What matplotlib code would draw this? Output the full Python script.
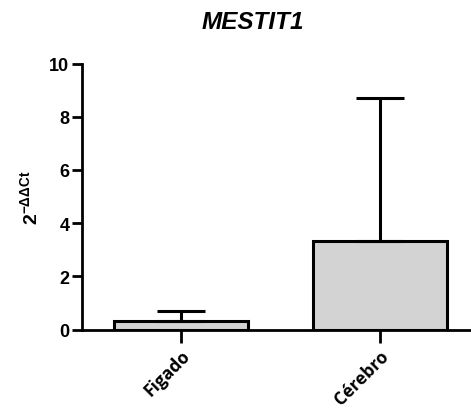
import matplotlib
matplotlib.use("Agg")
import matplotlib.pyplot as plt

plt.rcParams["mathtext.fontset"] = "custom"
plt.rcParams["mathtext.rm"] = "Liberation Sans:bold"
plt.rcParams["mathtext.bf"] = "Liberation Sans:bold"
plt.rcParams["mathtext.it"] = "Liberation Sans:bold"

categories = ["Figado", "Cérebro"]
means = [0.34, 3.32]
errors = [0.35, 5.38]
yticks = [0, 2, 4, 6, 8, 10]
title = "MESTIT1"

fig = plt.figure(figsize=(4.71, 4.14), dpi=100)
ax = fig.add_axes([82/471, 1-330.7/414, 1-82/471, (330.7-64.5)/414])

x = list(range(len(categories)))
ax.bar(x, means, width=0.67, color="#d3d3d3", edgecolor="black", linewidth=2.2, zorder=2)
ax.errorbar(x, means, yerr=[[0]*len(errors), errors], fmt="none", ecolor="black",
            elinewidth=2.2, capsize=17, capthick=2.2, zorder=3)

ax.set_xlim(-0.497, 1.457)
ax.set_ylim(0, 10)
ax.set_yticks(yticks)
ax.set_yticklabels([str(v) for v in yticks], fontfamily="Liberation Sans",
                   fontweight="bold", fontsize=13)
ax.set_xticks(x)
ax.set_xticklabels(categories, rotation=45, ha="right", rotation_mode="anchor",
                   fontfamily="Open Sans", fontweight="bold", fontsize=12.5)

for s in ["top", "right"]:
    ax.spines[s].set_visible(False)
for s in ["left", "bottom"]:
    ax.spines[s].set_linewidth(2.0)
ax.tick_params(axis="y", length=7, width=2.0, pad=2)
ax.tick_params(axis="x", length=9, width=2.0, pad=3)

ax.set_ylabel(r"$\mathrm{2^{-\Delta\Delta Ct}}$", fontsize=14, labelpad=6,
              fontfamily="Liberation Sans", fontweight="bold")

fig.text(253/471, 1-22.5/414, title, ha="center", va="center",
         fontfamily="Liberation Sans", fontweight="bold", fontstyle="italic", fontsize=17.5)

fig.savefig("out.png", dpi=100)
